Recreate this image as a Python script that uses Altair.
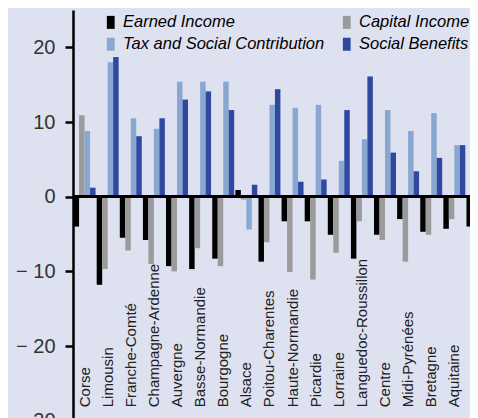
import altair as alt
import pandas as pd

regions = ["Corse", "Limousin", "Franche-Comté", "Champagne-Ardenne", "Auvergne",
           "Basse-Normandie", "Bourgogne", "Alsace", "Poitou-Charentes",
           "Haute-Normandie", "Picardie", "Lorraine", "Languedoc-Roussillon",
           "Centre", "Midi-Pyrénées", "Bretagne", "Aquitaine", "Nord Pas de Calais"]

series = ["Earned Income", "Capital Income", "Tax and Social Contribution", "Social Benefits"]
colors = ["#000000", "#9b9b9b", "#88a8d2", "#2f49a0"]

earned = [-4.0, -11.8, -5.5, -5.8, -9.3, -9.7, -8.3, 0.9, -8.7, -3.3, -3.3, -5.1, -8.3, -5.1, -3.0, -4.7, -4.3, -4.0]
capital = [10.9, -9.7, -7.2, -9.0, -10.0, -6.9, -9.3, -0.4, -6.1, -10.1, -11.1, -7.5, -3.3, -5.8, -8.7, -5.1, -3.0, -11.8]
tax = [8.8, 18.0, 10.5, 9.1, 15.4, 15.4, 15.4, -4.4, 12.3, 11.9, 12.3, 4.8, 7.7, 11.6, 8.8, 11.2, 6.9, 5.2]
social = [1.2, 18.7, 8.1, 10.5, 13.0, 14.1, 11.6, 1.6, 14.4, 2.0, 2.3, 11.6, 16.1, 5.9, 3.4, 5.2, 6.9, 4.0]

y_ticks = [-30, -20, -10, 0, 10, 20]
label_level = -28.2

rows = []
for name, vals in zip(series, [earned, capital, tax, social]):
    for r, v in zip(regions, vals):
        rows.append({"region": r, "series": name, "value": v})
df = pd.DataFrame(rows)
lab = pd.DataFrame({"region": regions})

font = "Liberation Sans"

x_enc = alt.X("region:N", sort=regions, axis=None,
              scale=alt.Scale(domain=regions, range=[0, 416], paddingInner=0.05, paddingOuter=0.025))
y_scale = alt.Scale(domain=[-30, 25], range=[410.7, 0], nice=False, zero=False)

bars = alt.Chart(df).mark_bar(clip=True).encode(
    x=x_enc,
    xOffset=alt.XOffset("series:N", sort=series, scale=alt.Scale(domain=series, paddingInner=0, paddingOuter=0)),
    y=alt.Y("value:Q", scale=y_scale,
            axis=alt.Axis(values=y_ticks, title=None, grid=False, domainColor="black", domainWidth=2.5,
                          tickColor="black", tickWidth=2.5, tickSize=8, labelFontSize=20,
                          labelColor="#333333", labelFont=font, labelPadding=10,
                          labelExpr="datum.value < 0 ? '\u2212 ' + abs(datum.value) : datum.label")),
    color=alt.Color("series:N", sort=series,
                    scale=alt.Scale(domain=series, range=colors),
                    legend=alt.Legend(title=None, orient="none", legendX=29.5, legendY=4, columns=2,
                                      direction="horizontal",
                                      symbolType="M-0.6,-1H0.6V1H-0.6Z", symbolSize=169,
                                      symbolStrokeWidth=0, labelFontStyle="italic", labelFontSize=16.5,
                                      labelFont=font, labelColor="black", labelOffset=4, labelLimit=400,
                                      columnPadding=14, rowPadding=5, padding=0)),
)

zero = alt.Chart(df).mark_rule(color="black", strokeWidth=2.5).encode(y=alt.datum(0, scale=y_scale))

labels = alt.Chart(lab).mark_text(angle=270, align="left", baseline="middle", fontSize=15,
                                   font=font, color="#222222").encode(
    x=alt.X("region:N", sort=regions, axis=None),
    y=alt.datum(label_level),
    text="region:N",
)

chart = alt.layer(bars, zero, labels).properties(
    width=397, height=408,
    autosize=alt.AutoSizeParams(type="none"),
    padding={"left": 65, "top": 2, "right": 0, "bottom": 0},
    background="#dee1f0",
).configure_view(stroke=None)

chart.save("out.html", embed_options={"renderer": "svg", "actions": False})
